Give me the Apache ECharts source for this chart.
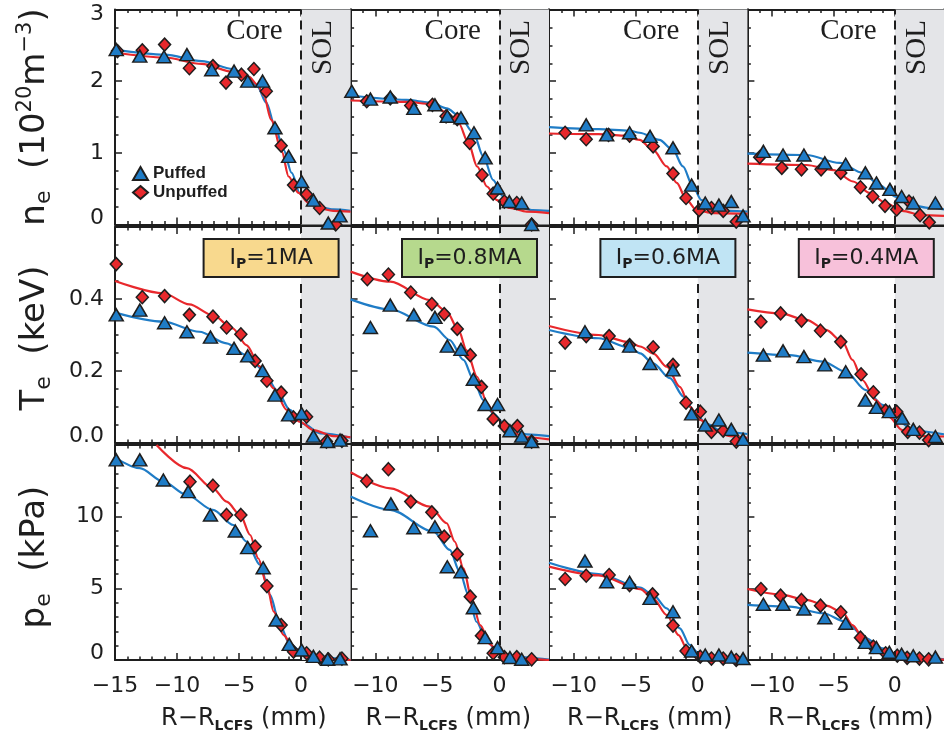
<!DOCTYPE html>
<html><head><meta charset="utf-8">
<script src="https://cdn.jsdelivr.net/npm/echarts@6/dist/echarts.min.js"></script>
<style>html,body{margin:0;padding:0;background:#fff}#c{width:944px;height:740px}</style>
</head><body><div id="c"></div>
<script>
// ---------------- DATA ----------------
const currents = ['1MA', '0.8MA', '0.6MA', '0.4MA'];
const seriesNames = ['Puffed', 'Unpuffed'];
const xTickLabels = [[-15, -10, -5, 0], [-10, -5, 0], [-10, -5, 0], [-10, -5, 0]];
const yTickLabels = [[0, 1, 2, 3], [0, 0.2, 0.4], [0, 5, 10]];

// n_e (10^20 m^-3)
const ne_1MA_puffed = [[-14.9,2.44],[-13.0,2.35],[-11.05,2.34],[-9.2,2.37],[-7.2,2.16],[-5.4,2.14],[-4.3,2.0],[-3.1,2.0],[-2.1,1.35],[-1.0,0.95],[0.05,0.6],[1.0,0.34],[2.2,0.02],[3.15,0.12]];
const ne_1MA_unpuffed = [[-14.8,2.42],[-12.8,2.43],[-11.0,2.51],[-9.0,2.18],[-7.1,2.21],[-6.05,1.98],[-4.8,2.09],[-3.8,2.17],[-2.8,1.86],[-1.6,1.10],[-0.6,0.55],[0.45,0.42],[1.5,0.23],[2.8,0.0]];
const ne_1MA_puffedFit = [[-15,2.44],[-11,2.37],[-8,2.28],[-5.5,2.17],[-4.3,2.07],[-3.5,1.92],[-2.8,1.70],[-2.1,1.37],[-1.4,1.04],[-0.75,0.72],[-0.1,0.44],[0.5,0.32],[1.3,0.25],[2.6,0.21],[4,0.19]];
const ne_1MA_unpuffedFit = [[-15,2.40],[-11,2.33],[-8,2.24],[-5.5,2.13],[-4.2,2.06],[-3.5,1.95],[-3.0,1.80],[-2.4,1.46],[-1.55,1.02],[-1.0,0.67],[-0.2,0.44],[0.6,0.30],[1.4,0.23],[2.6,0.19],[4,0.18]];

const ne_08MA_puffed = [[-11.9,1.86],[-10.4,1.75],[-8.8,1.78],[-6.9,1.62],[-5.2,1.67],[-4.2,1.51],[-3.1,1.49],[-2.05,1.28],[-1.15,0.93],[-0.15,0.51],[0.8,0.32],[1.8,0.30],[2.6,0.0]];
const ne_08MA_unpuffed = [[-10.7,1.72],[-8.8,1.76],[-7.15,1.66],[-5.4,1.67],[-4.3,1.51],[-3.4,1.47],[-2.4,1.14],[-1.4,0.69],[-0.5,0.43],[0.4,0.32],[1.4,0.30],[2.6,0.0]];
const ne_08MA_puffedFit = [[-12,1.80],[-7.5,1.74],[-5.5,1.70],[-4.25,1.62],[-3.2,1.51],[-2.1,1.28],[-1.3,0.95],[-0.5,0.62],[0.3,0.39],[1.4,0.25],[2.7,0.20],[4,0.19]];
const ne_08MA_unpuffedFit = [[-12,1.73],[-7.5,1.71],[-5.5,1.68],[-4.25,1.56],[-3.3,1.42],[-2.5,1.14],[-1.8,0.81],[-1.0,0.53],[-0.2,0.34],[0.85,0.23],[2.2,0.18],[4,0.16]];

const ne_06MA_puffed = [[-9.0,1.39],[-7.35,1.25],[-5.5,1.28],[-3.85,1.23],[-2.0,1.07],[-0.5,0.55],[0.6,0.30],[1.7,0.27],[2.7,0.32],[3.65,0.12]];
const ne_06MA_unpuffed = [[-10.7,1.28],[-9.0,1.19],[-7.2,1.25],[-5.5,1.24],[-3.6,1.09],[-2.0,0.71],[-0.95,0.37],[0.1,0.20],[1.1,0.23],[2.05,0.19],[3.1,0.04]];
const ne_06MA_puffedFit = [[-12,1.36],[-8,1.33],[-5.5,1.31],[-4.7,1.28],[-3.1,1.18],[-2.0,1.04],[-1.2,0.81],[-0.4,0.53],[0.3,0.34],[1.25,0.23],[2.6,0.19],[4,0.18]];
const ne_06MA_unpuffedFit = [[-12,1.27],[-8,1.26],[-6,1.24],[-4.7,1.18],[-3.6,1.04],[-2.5,0.81],[-1.7,0.58],[-0.9,0.34],[-0.1,0.20],[1.25,0.16],[4,0.15]];

const ne_04MA_puffed = [[-10.7,1.02],[-9.1,0.97],[-7.4,0.97],[-5.7,0.86],[-4.0,0.84],[-2.4,0.72],[-1.5,0.58],[-0.4,0.49],[0.55,0.39],[1.5,0.30],[3.3,0.30]];
const ne_04MA_unpuffed = [[-11.0,0.94],[-9.2,0.79],[-7.6,0.77],[-6.0,0.77],[-4.4,0.72],[-2.8,0.52],[-1.8,0.39],[-0.8,0.26],[0.15,0.21],[1.15,0.32],[2.05,0.13],[2.8,0.03]];
const ne_04MA_puffedFit = [[-12,0.99],[-7.2,0.97],[-4.5,0.86],[-2.6,0.72],[-1.25,0.55],[0.05,0.39],[1.4,0.27],[2.8,0.23],[4,0.21]];
const ne_04MA_unpuffedFit = [[-12,0.85],[-7.2,0.83],[-5.0,0.76],[-3.4,0.60],[-2.05,0.44],[-0.75,0.30],[0.6,0.19],[2.2,0.13],[4,0.12]];

// T_e (keV)
const te_1MA_puffed = [[-14.9,0.356],[-13.0,0.369],[-11.0,0.334],[-9.2,0.309],[-7.3,0.294],[-5.4,0.263],[-4.3,0.242],[-3.1,0.201],[-2.1,0.133],[-1.0,0.078],[0.05,0.082],[1.0,0.019],[2.15,0.004],[3.15,0.008]];
const te_1MA_unpuffed = [[-14.9,0.497],[-12.8,0.405],[-11.0,0.408],[-9.0,0.356],[-7.1,0.351],[-6.0,0.321],[-4.85,0.302],[-3.7,0.228],[-2.75,0.173],[-1.6,0.140],[-0.6,0.071],[0.45,0.073],[2.05,0.004],[3.3,0.006]];
const te_1MA_puffedFit = [[-15,0.362],[-11.1,0.337],[-8.2,0.309],[-6.0,0.277],[-4.4,0.244],[-3.05,0.203],[-1.95,0.147],[-0.9,0.092],[0.2,0.053],[1.55,0.027],[4,0.015]];
const te_1MA_unpuffedFit = [[-15,0.45],[-11.1,0.416],[-9.0,0.385],[-7.1,0.355],[-5.5,0.318],[-4.4,0.272],[-3.3,0.212],[-2.2,0.152],[-1.15,0.092],[-0.1,0.059],[1.0,0.036],[2.6,0.019],[4,0.016]];

const te_08MA_puffed = [[-10.4,0.321],[-8.8,0.383],[-6.9,0.356],[-5.2,0.349],[-4.2,0.269],[-3.1,0.260],[-2.1,0.177],[-1.15,0.107],[-0.15,0.107],[0.85,0.034],[1.8,0.019],[2.6,0.004]];
const te_08MA_unpuffed = [[-10.65,0.455],[-8.95,0.468],[-7.15,0.418],[-5.45,0.386],[-4.45,0.358],[-3.4,0.317],[-2.35,0.244],[-1.45,0.156],[-0.5,0.067],[0.4,0.047],[1.45,0.047],[2.6,0.004]];
const te_08MA_puffedFit = [[-12,0.399],[-8.8,0.371],[-5.3,0.323],[-4.0,0.286],[-2.9,0.231],[-2.1,0.177],[-1.3,0.119],[-0.5,0.082],[0.6,0.045],[2.2,0.024],[4,0.019]];
const te_08MA_unpuffedFit = [[-12,0.476],[-8.8,0.448],[-5.6,0.397],[-4.25,0.365],[-3.3,0.314],[-2.65,0.258],[-1.8,0.184],[-1.0,0.110],[-0.2,0.066],[0.85,0.031],[2.2,0.016],[4,0.010]];

const te_06MA_puffed = [[-9.1,0.309],[-7.35,0.277],[-5.5,0.269],[-3.85,0.221],[-2.0,0.203],[-0.5,0.081],[0.6,0.050],[1.7,0.064],[2.7,0.038],[3.65,0.010]];
const te_06MA_unpuffed = [[-10.7,0.279],[-9.0,0.297],[-7.15,0.297],[-5.5,0.272],[-3.6,0.266],[-2.0,0.217],[-0.95,0.112],[0.2,0.087],[1.1,0.031],[2.05,0.034],[3.1,0.004]];
const te_06MA_puffedFit = [[-12,0.314],[-8,0.291],[-5.5,0.265],[-4.65,0.249],[-3.6,0.221],[-2.25,0.180],[-1.15,0.129],[-0.2,0.082],[0.7,0.053],[2.05,0.031],[4,0.025]];
const te_06MA_unpuffedFit = [[-12,0.325],[-8,0.300],[-5.5,0.280],[-4.65,0.268],[-3.6,0.249],[-2.5,0.212],[-1.45,0.156],[-0.65,0.101],[0.2,0.064],[1.25,0.036],[2.6,0.019],[4,0.014]];

const te_04MA_puffed = [[-10.7,0.244],[-9.1,0.256],[-7.4,0.240],[-5.7,0.217],[-4.0,0.198],[-2.4,0.119],[-1.5,0.099],[-0.45,0.087],[0.6,0.069],[1.5,0.038],[3.3,0.018]];
const te_04MA_unpuffed = [[-10.9,0.337],[-9.3,0.360],[-7.6,0.340],[-6.05,0.312],[-4.4,0.281],[-2.75,0.191],[-1.75,0.141],[-0.75,0.090],[0.15,0.087],[1.05,0.031],[2.0,0.029],[2.75,0.008]];
const te_04MA_puffedFit = [[-12,0.251],[-8.55,0.244],[-5.85,0.226],[-4.0,0.198],[-2.35,0.147],[-1.0,0.106],[0.3,0.059],[1.65,0.034],[4,0.024]];
const te_04MA_unpuffedFit = [[-12,0.371],[-9.35,0.360],[-7.2,0.342],[-5.6,0.314],[-4.25,0.281],[-3.45,0.231],[-2.65,0.175],[-1.55,0.119],[-0.5,0.073],[0.6,0.036],[2.2,0.019],[4,0.018]];

// p_e (kPa)
const pe_1MA_puffed = [[-14.9,13.96],[-13.0,13.96],[-11.1,12.56],[-9.1,11.75],[-7.3,10.12],[-5.3,9.0],[-4.3,7.84],[-3.05,6.44],[-2.0,2.79],[-0.95,1.09],[0.05,0.70],[1.0,0.25],[2.15,0.05],[3.15,0.08]];
const pe_1MA_unpuffed = [[-8.95,12.44],[-7.1,12.16],[-6.0,10.12],[-4.85,10.12],[-3.7,7.91],[-2.75,5.16],[-1.6,2.44],[-0.6,0.58],[0.45,0.47],[1.5,0.16],[2.2,0.05],[3.3,0.10]];
const pe_1MA_puffedFit = [[-15,14.12],[-13.0,13.38],[-11.1,12.44],[-9.2,11.51],[-7.1,10.47],[-5.45,9.42],[-4.4,8.26],[-3.3,6.63],[-2.5,4.54],[-1.7,2.44],[-0.9,1.09],[0.05,0.58],[1.55,0.16],[4,0.0]];
const pe_1MA_unpuffedFit = [[-11.65,15.0],[-9.2,13.38],[-7.1,11.98],[-6.0,11.05],[-4.9,10.12],[-4.1,8.72],[-3.45,7.10],[-2.75,5.23],[-2.2,3.37],[-1.4,1.74],[-0.6,0.82],[0.45,0.35],[1.8,0.07],[4,0.0]];

const pe_08MA_puffed = [[-10.4,9.02],[-8.75,10.89],[-6.9,9.23],[-5.2,9.30],[-4.2,6.51],[-3.1,6.16],[-2.1,3.65],[-1.15,1.56],[-0.15,0.86],[0.85,0.17],[1.8,0.05]];
const pe_08MA_unpuffed = [[-10.7,12.49],[-8.95,13.31],[-7.15,11.05],[-5.45,10.30],[-4.45,8.61],[-3.4,7.37],[-2.35,4.42],[-1.45,1.70],[-0.5,0.47],[0.4,0.2],[1.4,0.2],[2.6,0.05]];
const pe_08MA_puffedFit = [[-12,11.40],[-8.8,10.47],[-5.3,8.95],[-4.0,7.68],[-3.2,6.16],[-2.5,4.54],[-1.85,2.67],[-1.0,1.28],[-0.2,0.63],[0.85,0.23],[4,0.02]];
const pe_08MA_unpuffedFit = [[-12,13.10],[-8.8,11.98],[-5.6,10.70],[-4.25,9.54],[-3.6,8.26],[-2.9,6.40],[-2.25,4.31],[-1.55,2.44],[-0.75,1.09],[0.05,0.35],[1.4,0.12],[4,0.0]];

const pe_06MA_puffed = [[-9.1,6.91],[-7.35,5.46],[-5.5,5.42],[-3.85,4.30],[-2.0,3.37],[-0.5,0.63],[0.6,0.35],[1.7,0.35],[2.7,0.2],[3.65,0.1]];
const pe_06MA_unpuffed = [[-10.7,5.65],[-9.0,5.88],[-7.15,5.93],[-5.5,5.23],[-3.65,4.58],[-2.0,2.40],[-0.95,0.63],[0.2,0.23],[1.1,0.1],[2.05,0.1],[3.1,0.0]];
const pe_06MA_puffedFit = [[-12,6.79],[-8,6.0],[-4.65,5.05],[-3.6,4.54],[-2.5,3.60],[-1.45,2.21],[-0.65,1.05],[0.05,0.47],[1.0,0.16],[4,0.0]];
const pe_06MA_unpuffedFit = [[-12,6.51],[-8,5.9],[-4.65,4.95],[-3.6,4.30],[-2.5,3.14],[-1.55,1.74],[-0.9,0.82],[-0.1,0.23],[0.7,0.05],[4,0.0]];

const pe_04MA_puffed = [[-10.7,3.89],[-9.1,3.89],[-7.4,3.56],[-5.7,2.95],[-4.0,2.56],[-2.4,1.23],[-1.5,0.86],[-0.45,0.54],[0.55,0.40],[1.5,0.3],[3.3,0.2]];
const pe_04MA_unpuffed = [[-10.9,4.95],[-9.3,4.49],[-7.6,4.19],[-6.05,3.79],[-4.4,3.33],[-2.8,1.56],[-1.75,0.93],[-0.75,0.47],[0.2,0.3],[1.0,0.15],[2.0,0.1],[2.75,0.05]];
const pe_04MA_puffedFit = [[-12,3.84],[-8.55,3.72],[-5.85,3.26],[-4.0,2.67],[-2.35,1.51],[-1.0,0.82],[0.3,0.35],[4,0.05]];
const pe_04MA_unpuffedFit = [[-12,4.95],[-9.35,4.58],[-7.2,4.19],[-5.6,3.79],[-4.25,3.33],[-3.45,2.44],[-2.65,1.63],[-1.55,0.93],[-0.5,0.35],[0.85,0.12],[4,0.02]];

// ---------------- LAYOUT / STYLE ----------------
const panels = [
  [[ne_1MA_puffed, ne_1MA_unpuffed, ne_1MA_puffedFit, ne_1MA_unpuffedFit],
   [ne_08MA_puffed, ne_08MA_unpuffed, ne_08MA_puffedFit, ne_08MA_unpuffedFit],
   [ne_06MA_puffed, ne_06MA_unpuffed, ne_06MA_puffedFit, ne_06MA_unpuffedFit],
   [ne_04MA_puffed, ne_04MA_unpuffed, ne_04MA_puffedFit, ne_04MA_unpuffedFit]],
  [[te_1MA_puffed, te_1MA_unpuffed, te_1MA_puffedFit, te_1MA_unpuffedFit],
   [te_08MA_puffed, te_08MA_unpuffed, te_08MA_puffedFit, te_08MA_unpuffedFit],
   [te_06MA_puffed, te_06MA_unpuffed, te_06MA_puffedFit, te_06MA_unpuffedFit],
   [te_04MA_puffed, te_04MA_unpuffed, te_04MA_puffedFit, te_04MA_unpuffedFit]],
  [[pe_1MA_puffed, pe_1MA_unpuffed, pe_1MA_puffedFit, pe_1MA_unpuffedFit],
   [pe_08MA_puffed, pe_08MA_unpuffed, pe_08MA_puffedFit, pe_08MA_unpuffedFit],
   [pe_06MA_puffed, pe_06MA_unpuffed, pe_06MA_puffedFit, pe_06MA_unpuffedFit],
   [pe_04MA_puffed, pe_04MA_unpuffed, pe_04MA_puffedFit, pe_04MA_unpuffedFit]]
];

const GL = [115, 350.6, 549, 747.4], GW = [235.6, 198.4, 198.4, 198.4];
const GT = [9.5, 227, 445], GH = [215, 216, 215];
const XMIN = [-15, -12, -12, -12], XMAX = 4;
const YMAX = [3, 0.6, 15];
const YMINOR = [[1, 4], [1, 20], [1, 1]];
const BLUE = '#1f7cc6', RED = '#e8282c', INK = '#1e1e1e';
const BOX = ['#f8d98e', '#b6d98d', '#c0e4f4', '#f7c1da'];
const SANS = 'DejaVu Sans';

function steps(max, num, div) { const o = []; for (let i = 0; i * num / div <= max + 1e-9; i++) o.push(+(i * num / div).toFixed(4)); return o; }
function minus(v) { return v < 0 ? '\u2212' + (-v) : String(v); }

const grids = [], xAxes = [], yAxes = [], series = [], graphic = [];
let g = 0;
for (let r = 0; r < 3; r++) {
  for (let c = 0; c < 4; c++, g++) {
    grids.push({ left: GL[c], top: GT[r], width: GW[c], height: GH[r], containLabel: false });
    const xmaj = [], xmin = [];
    for (let v = XMIN[c]; v <= XMAX; v++) { xmin.push(v); if (v % 5 === 0) xmaj.push(v); }
    const yMajor = r === 0 ? [0, 1, 2, 3] : (r === 1 ? [0, 0.2, 0.4, 0.6] : [0, 5, 10, 15]);
    const yMinor = steps(YMAX[r], YMINOR[r][0], YMINOR[r][1]);
    const line = { show: true, onZero: false, lineStyle: { color: INK, width: 2 } };
    const noLine = { show: false, onZero: false };
    const tk = (vals, len) => ({ show: true, inside: true, length: len, customValues: vals, lineStyle: { color: INK, width: 1.5 } });
    const xBase = { type: 'value', gridIndex: g, min: XMIN[c], max: XMAX, splitLine: { show: false } };
    const xName = r === 2 ? {
      name: '{a|R\u2212R}{s|LCFS}{a| (mm)}', nameLocation: 'middle', nameGap: 45,
      nameTextStyle: { color: INK, padding: [[0,0,0,22],[0,3,0,0],[0,0,0,3],[0,0,0,10]][c],
        rich: { a: { fontFamily: SANS, fontSize: 24, color: INK, lineHeight: 28 },
                s: { fontFamily: SANS, fontSize: 14, fontWeight: 'bold', color: INK, verticalAlign: 'bottom', lineHeight: 14 } } }
    } : {};
    xAxes.push(Object.assign({}, xBase, xName, { position: 'bottom', axisLine: line, axisTick: tk(xmaj, 7),
      axisLabel: r === 2 ? { show: true, customValues: xTickLabels[c], formatter: minus, fontFamily: SANS, fontSize: 22, color: INK, margin: 15 } : { show: false } }));
    xAxes.push(Object.assign({}, xBase, { position: 'bottom', axisLine: noLine, axisTick: tk(xmin, 3.5), axisLabel: { show: false } }));
    xAxes.push(Object.assign({}, xBase, { position: 'top', axisLine: line, axisTick: tk(xmaj, 7), axisLabel: { show: false } }));
    xAxes.push(Object.assign({}, xBase, { position: 'top', axisLine: noLine, axisTick: tk(xmin, 3.5), axisLabel: { show: false } }));

    const yBase = { type: 'value', gridIndex: g, min: 0, max: YMAX[r], splitLine: { show: false } };
    const yTitles = ['{b|n}{s|e}{b|  (10}{u|20}{b|m}{u|\u22123}{b|)}', '{b|T}{s|e}{b|  (keV)}', '{b|p}{s|e}{b|  (kPa)}'];
    const yName = c === 0 ? {
      name: yTitles[r], nameLocation: 'middle', nameGap: 60, nameRotate: 90,
      nameTextStyle: { color: INK, padding: [[0,0,0,0],[0,6,0,0],[0,9,0,0]][r], rich: {
        b: { fontFamily: SANS, fontSize: 34, color: INK, lineHeight: 40 },
        s: { fontFamily: SANS, fontSize: 22, color: INK, verticalAlign: 'bottom', lineHeight: 14 },
        u: { fontFamily: SANS, fontSize: 21, color: INK, verticalAlign: 'top', lineHeight: 14 } } }
    } : {};
    yAxes.push(Object.assign({}, yBase, yName, { position: 'left', axisLine: line, axisTick: tk(yMajor, 7),
      axisLabel: c === 0 ? { show: true, customValues: yTickLabels[r], margin: 11,
        formatter: (v) => { const t = r === 1 ? v.toFixed(1) : String(v);
          if (v === 0) return '{lo|' + t + '}'; if (v === YMAX[r]) return '{hi|' + t + '}'; return '{n|' + t + '}'; },
        rich: { n: { fontFamily: SANS, fontSize: 22, color: INK },
                lo: { fontFamily: SANS, fontSize: 22, color: INK, padding: [0, 0, 13, 0] },
                hi: { fontFamily: SANS, fontSize: 22, color: INK, padding: [10, 0, 0, 0] } } } : { show: false } }));
    yAxes.push(Object.assign({}, yBase, { position: 'left', axisLine: noLine, axisTick: tk(yMinor, 3.5), axisLabel: { show: false } }));
    yAxes.push(Object.assign({}, yBase, { position: 'right', axisLine: line, axisTick: tk(yMajor, 7), axisLabel: { show: false } }));
    yAxes.push(Object.assign({}, yBase, { position: 'right', axisLine: noLine, axisTick: tk(yMinor, 3.5), axisLabel: { show: false } }));

    const xi = 4 * g, yi = 4 * g;
    const bg = {
      type: 'line', name: 'region', xAxisIndex: xi, yAxisIndex: yi, data: [], z: 1, silent: true,
      markArea: { silent: true, itemStyle: { color: '#e4e5e8' }, data: [[{ xAxis: 0 }, { xAxis: XMAX }]] },
      markLine: { silent: true, symbol: ['none', 'none'], label: { show: false },
        lineStyle: { color: INK, width: 2, type: [9, 6] }, data: [{ xAxis: 0 }] }
    };
    if (r === 0) {
      bg.markPoint = { silent: true, symbol: 'rect', symbolSize: 1, itemStyle: { color: 'rgba(0,0,0,0)' },
        data: [
          { coord: [-1.45, 2.69], label: { show: true, position: 'left', distance: 0, formatter: 'Core', fontFamily: 'Liberation Serif', fontSize: 29, color: INK } },
          { coord: [1.8, 2.47], label: { show: true, position: 'inside', rotate: 90, formatter: 'SOL', fontFamily: 'Liberation Serif', fontSize: 29, color: INK } }
        ] };
    }
    series.push(bg);
    const d = panels[r][c];
    series.push({ type: 'line', name: 'Puffed fit', xAxisIndex: xi, yAxisIndex: yi, data: d[2], smooth: 0.3, smoothMonotone: 'x', showSymbol: false, symbol: 'none', lineStyle: { color: BLUE, width: 2.2 }, z: 2, silent: true });
    series.push({ type: 'line', name: 'Unpuffed fit', xAxisIndex: xi, yAxisIndex: yi, data: d[3], smooth: 0.3, smoothMonotone: 'x', showSymbol: false, symbol: 'none', lineStyle: { color: RED, width: 2.2 }, z: 2, silent: true });
    series.push({ type: 'scatter', name: seriesNames[1], xAxisIndex: xi, yAxisIndex: yi, data: d[1], symbol: 'diamond', symbolSize: [12, 13], itemStyle: { color: RED, borderColor: INK, borderWidth: 1.5, opacity: 1 }, z: 4 });
    series.push({ type: 'scatter', name: seriesNames[0], xAxisIndex: xi, yAxisIndex: yi, data: d[0], symbol: 'triangle', symbolSize: [14, 12], itemStyle: { color: BLUE, borderColor: INK, borderWidth: 1.5, opacity: 1 }, z: 5 });

    if (r === 1) {
      const right = GL[c] + GW[c] - 12, w = 135, h = 38, top = 239;
      graphic.push({ type: 'group', children: [
        { type: 'rect', shape: { x: right - w, y: top, width: w, height: h }, style: { fill: BOX[c], stroke: INK, lineWidth: 2 }, z: 10 },
        { type: 'text', z: 11, style: { x: right - w / 2, y: top + h / 2, align: 'center', verticalAlign: 'middle',
          text: '{i|I}{p|P}{t|=' + currents[c] + '}',
          rich: { i: { fontFamily: SANS, fontSize: 22, fill: INK, lineHeight: 26 },
                  p: { fontFamily: SANS, fontSize: 14, fontWeight: 'bold', fill: INK, verticalAlign: 'bottom', lineHeight: 13 },
                  t: { fontFamily: SANS, fontSize: 22, fill: INK, lineHeight: 26 } } } }
      ] });
    }
  }
}

const chart = echarts.init(document.getElementById('c'), null, { renderer: 'canvas' });
chart.setOption({
  animation: false,
  backgroundColor: '#fff',
  legend: { data: seriesNames, orient: 'vertical', left: 132, top: 165, padding: 0, itemGap: 2, itemWidth: 15, itemHeight: 13,
    textStyle: { fontFamily: 'Liberation Sans', fontWeight: 'bold', fontSize: 17, color: INK }, selectedMode: false },
  grid: grids, xAxis: xAxes, yAxis: yAxes, series: series, graphic: graphic
});
</script></body></html>
